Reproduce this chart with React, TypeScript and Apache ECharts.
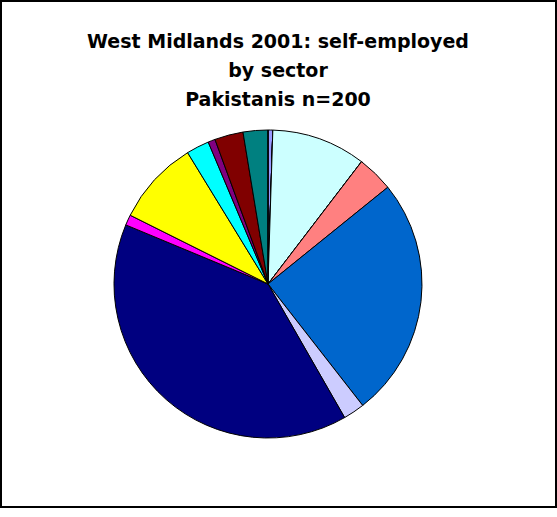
import React, { useEffect, useRef } from "react";
import * as echarts from "echarts";

const titleLines = ["West Midlands 2001: self-employed", "by sector", "Pakistanis n=200"];

const sectors = [
  "Agriculture",
  "Fishing",
  "Mining",
  "Manufacturing",
  "Electricity, gas & water",
  "Construction",
  "Wholesale & retail",
  "Hotels & restaurants",
  "Transport & communication",
  "Financial intermediation",
  "Real estate & business",
  "Public administration",
  "Education",
  "Health & social work",
  "Other services",
  "Private households",
];

const shares = [0.5, 0, 0, 9.9, 0, 3.8, 25.3, 2.25, 39.6, 1.1, 8.9, 2.4, 0.75, 3.0, 2.6, 0];

const sliceColors = [
  "#9999FF",
  "#993366",
  "#FFFFCC",
  "#CCFFFF",
  "#660066",
  "#FF8080",
  "#0066CC",
  "#CCCCFF",
  "#000080",
  "#FF00FF",
  "#FFFF00",
  "#00FFFF",
  "#800080",
  "#800000",
  "#008080",
  "#0000FF",
];

export default function App() {
  const ref = useRef<HTMLDivElement>(null);

  useEffect(() => {
    if (!ref.current) return;
    const chart = echarts.init(ref.current, undefined, { renderer: "svg" });
    chart.setOption({
      animation: false,
      backgroundColor: "#ffffff",
      graphic: [
        {
          type: "rect",
          shape: { x: 1, y: 1, width: 555, height: 506 },
          style: { fill: "none", stroke: "#000000", lineWidth: 2 },
          silent: true,
        },
        ...titleLines.map((t, i) => ({
          type: "text",
          x: 278,
          y: 41 + i * 29,
          silent: true,
          style: {
            text: t,
            align: "center",
            verticalAlign: "middle",
            fontFamily: "DejaVu Sans",
            fontWeight: "bold",
            fontSize: 19,
            fill: "#000000",
          },
        })),
      ],
      series: [
        {
          type: "pie",
          center: [268, 284],
          radius: 154,
          startAngle: 90,
          clockwise: true,
          avoidLabelOverlap: false,
          label: { show: false },
          labelLine: { show: false },
          emphasis: { disabled: true },
          itemStyle: { borderColor: "#000000", borderWidth: 1 },
          data: sectors.map((name, i) => ({
            name,
            value: shares[i],
            itemStyle: { color: sliceColors[i] },
          })),
        },
      ],
    });
    return () => chart.dispose();
  }, []);

  return (
    <div
      ref={ref}
      style={{ position: "absolute", left: 0, top: 0, width: 557, height: 517 }}
    />
  );
}
